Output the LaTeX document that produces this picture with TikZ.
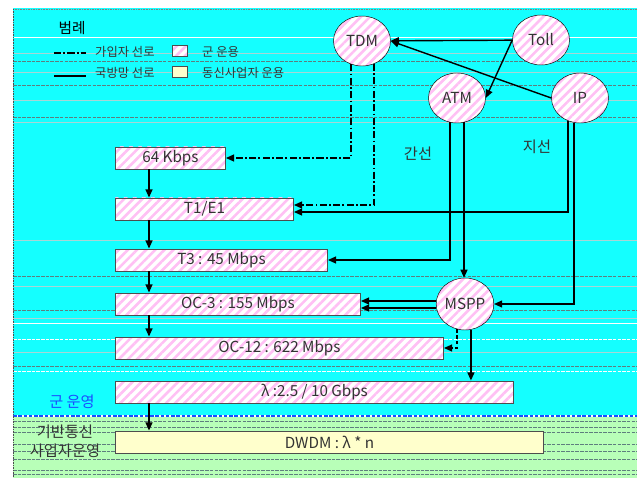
\documentclass[tikz,border=0pt]{standalone}
\usepackage{fontspec}
\setmainfont{Noto Sans CJK KR}
\usetikzlibrary{positioning,arrows.meta,calc,patterns.meta,shapes.geometric}
\definecolor{bgCyan}{HTML}{14FFFF}
\definecolor{bgPale}{HTML}{6CFFFF}
\definecolor{bgGreen}{HTML}{B8FFB8}
\definecolor{stripePink}{HTML}{FFC0F4}
\definecolor{boxYellow}{HTML}{FFFFCC}
\definecolor{edgeGray}{HTML}{4D4D4D}
\definecolor{textGray}{HTML}{333333}
\definecolor{opBlue}{HTML}{1A4DFF}
\definecolor{ruleLight}{HTML}{A8D6D6}
\definecolor{ruleDark}{HTML}{5E7E7E}
\tikzset{
  stripes/.style={preaction={fill=white}, pattern={Lines[angle=45,distance=5.5pt,line width=2.2pt]}, pattern color=stripePink},
  ratebox/.style={draw=edgeGray, thick, anchor=west, minimum height=0.66cm, inner sep=0pt, text=textGray, font=\fontsize{13}{13}\selectfont},
  netnode/.style={ellipse, draw=black, thin, minimum width=1.71cm, minimum height=1.5cm, inner sep=0pt, stripes, text=textGray, font=\fontsize{13}{13}\selectfont},
  link/.style={-{Triangle[length=7pt,width=6pt]}, line width=1.2pt},
  subline/.style={line width=1.2pt, dash pattern=on 6pt off 2pt on 1.5pt off 2pt},
  legtext/.style={anchor=west, inner sep=0pt, text=textGray, font=\fontsize{10.5}{10.5}\selectfont},
  legswatch/.style={draw=edgeGray, line width=0.9pt, minimum width=0.45cm, minimum height=0.33cm, inner sep=0pt},
  bgdash/.style={ruleLight, line width=0.5pt},
  bgdot/.style={ruleDark, dash pattern=on 3pt off 1pt, line width=0.45pt},
  bgwhite/.style={white, line width=0.8pt}
}
\begin{document}
\begin{tikzpicture}[x=0.03cm, y=-0.03cm]
\useasboundingbox (0,0) rectangle (637,478);
% background bands
\shade[top color=bgCyan, middle color=bgPale, bottom color=bgCyan] (13,9) rectangle (637,416);
\fill[bgGreen] (13,416) rectangle (637,478);
\foreach \yy in {53,72,100,122,240,286,318,352} \draw[bgdash] (13,\yy) -- (637,\yy);
\foreach \yy in {61,85,117,276,310,366} \draw[bgdot] (13,\yy) -- (637,\yy);
\foreach \yy in {37,323} \draw[bgwhite] (13,\yy) -- (637,\yy);
\foreach \yy in {339,371} \draw[bgwhite, dash pattern=on 3pt off 1pt] (13,\yy) -- (637,\yy);
\foreach \yy in {421,427,432,444,451,459,470,474} \draw[bgdot] (13,\yy) -- (637,\yy);
\draw[white, line width=2pt] (13,416) -- (637,416);
\draw[opBlue, line width=2pt, dash pattern=on 3pt off 1.5pt] (13,416) -- (637,416);
\draw[gray, densely dotted] (13,9) -- (637,9);
\draw[black!70, densely dotted] (13,9) -- (13,478);

% legend
\node[font=\fontsize{12.5}{12.5}\selectfont, text=black] (legtitle) at (72,28) {범례};
\coordinate (subA) at (54,53);
\coordinate (subB) at (86,53);
\draw[subline] (subA) -- (subB);
\node[legtext] (subtxt) at (95,52) {가입자 선로};
\node[legswatch, stripes] (milbox) at (180,51) {};
\node[legtext] (miltxt) at (202,52) {군 운용};
\coordinate (netA) at (54,76);
\coordinate (netB) at (86,76);
\draw[line width=1.2pt] (netA) -- (netB);
\node[legtext] (nettxt) at (95,73) {국방망 선로};
\node[legswatch, fill=boxYellow] (carbox) at (180,72) {};
\node[legtext] (cartxt) at (202,73) {동신사업자 운용};

% network elements
\node[netnode] (tdm) at (362,41) {TDM};
\node[netnode] (toll) at (541,40) {Toll};
\node[netnode] (atm) at (457,98) {ATM};
\node[netnode] (ip) at (580,98) {IP};
\node[netnode, minimum width=1.68cm, minimum height=1.56cm] (mspp) at (465,304) {MSPP};

% rate hierarchy
\node[ratebox, stripes, minimum width=3.3cm] (r64) at (115,158) {64 Kbps};
\node[ratebox, stripes, minimum width=5.34cm] (t1) at (115,209) {T1/E1};
\node[ratebox, stripes, minimum width=6.36cm] (t3) at (115,260) {T3 : 45 Mbps};
\node[ratebox, stripes, minimum width=7.35cm] (oc3) at (115,304) {OC-3 : 155 Mbps};
\node[ratebox, stripes, minimum width=9.84cm] (oc12) at (115,348) {OC-12 : 622 Mbps};
\node[ratebox, stripes, minimum width=11.94cm] (lam) at (115,392) {λ :2.5 / 10 Gbps};
\node[ratebox, fill=boxYellow, minimum width=12.84cm] (dwdm) at (115,442) {DWDM : λ * n};

% labels
\node[text=textGray, font=\fontsize{13}{13}\selectfont] (trunk) at (418,154) {간선};
\node[text=textGray, font=\fontsize{13}{13}\selectfont] (branch) at (537,147) {지선};
\node[text=opBlue, font=\fontsize{13}{13}\selectfont] (milop) at (72,402) {군 운영};
\node[text=textGray, font=\fontsize{13}{13}\selectfont] (carop1) at (65,432) {기반통신};
\node[text=textGray, font=\fontsize{13}{13}\selectfont] (carop2) at (65,451) {사업자운영};

% connectors
\draw[link] (toll) -- (tdm);
\draw[link] (toll.west) -- (atm.east);
\draw[link] (ip.west) -- (tdm.east);
\draw[link, subline] (tdm.-115) |- (r64.east);
\draw[link, subline] (tdm.-62) |- ($(t1.east)+(0,-4)$);
\draw[link] (ip.-118) |- ($(t1.east)+(0,3)$);
\draw[link] (atm.-106) |- (t3.east);
\draw[link] (atm.-74) -- (atm.-74 |- mspp.north);
\draw[link] (ip.-104) |- (mspp.east);
\draw[link] ($(mspp.west)+(0,-3)$) -- ($(oc3.east)+(0,-3)$);
\draw[link] ($(mspp.west)+(0,4)$) -- ($(oc3.east)+(0,4)$);
\draw[link, dash pattern=on 3pt off 2pt] (mspp.-108) |- (oc12.east);
\draw[link] (mspp.-77) -- (mspp.-77 |- lam.north);
\foreach \upper/\lower in {r64/t1,t1/t3,t3/oc3,oc3/oc12,lam/dwdm}
  \draw[link] ($(\upper.south west)+(34,0)$) -- ($(\lower.north west)+(34,0)$);
\end{tikzpicture}
\end{document}
